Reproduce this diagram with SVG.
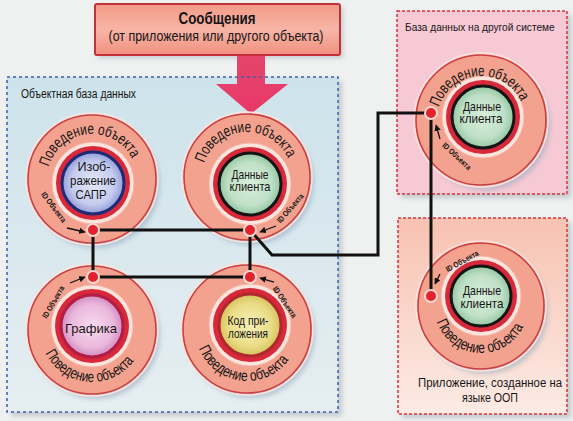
<svg xmlns="http://www.w3.org/2000/svg" width="573" height="421" viewBox="0 0 573 421">
<style>
text{font-family:"Liberation Sans","Noto Sans",Arial,sans-serif;fill:#161616}
.outer{fill:#f2a28e;stroke:#cf3d3f;stroke-width:1.6}
.halo{fill:none;stroke:#fbe3dc;stroke-width:1.5}
.pale{fill:#fde4dc;stroke:#f3b8a8;stroke-width:1}
.redr{fill:#d7293a}
.shadow{fill:#8fa6bd;opacity:.55;filter:url(#blur)}
.ring{font-size:15.5px}
.inner{font-size:13px;text-anchor:middle}
.idl{font-size:8px;font-weight:bold;text-anchor:middle}
.ida{stroke:#111;stroke-width:1.3;fill:none;marker-end:url(#ah)}
.conn{stroke:#111;stroke-width:3;fill:none;stroke-linejoin:miter}
.port{fill:#e2232d;stroke:#fcd8d0;stroke-width:2}
.ptitle{font-size:12px}
</style>
<defs>
<filter id="blur" x="-20%" y="-20%" width="140%" height="140%"><feGaussianBlur stdDeviation="2.5"/></filter>
<marker id="ah" viewBox="0 0 10 10" refX="9" refY="5" markerWidth="5" markerHeight="5" orient="auto" markerUnits="strokeWidth"><path d="M0,0 L10,5 L0,10 z" fill="#111"/></marker>
<linearGradient id="gLeft" x1="0" y1="0" x2="0" y2="1"><stop offset="0" stop-color="#cde3eb"/><stop offset="1" stop-color="#e6eef1"/></linearGradient>
<linearGradient id="gRB" x1="0" y1="0" x2="0" y2="1"><stop offset="0" stop-color="#f7c2b1"/><stop offset="1" stop-color="#fcebe5"/></linearGradient>
<linearGradient id="gMsg" x1="0" y1="0" x2="0" y2="1"><stop offset="0" stop-color="#f39a88"/><stop offset=".5" stop-color="#f7b5a6"/><stop offset="1" stop-color="#f09080"/></linearGradient>
<linearGradient id="gArr" x1="0" y1="0" x2="0" y2="1"><stop offset="0" stop-color="#e5456b"/><stop offset="1" stop-color="#e8386a"/></linearGradient>
<radialGradient id="gBlue"><stop offset="0" stop-color="#e4e8f7"/><stop offset=".7" stop-color="#c4cbee"/><stop offset="1" stop-color="#8f9bd6"/></radialGradient>
<radialGradient id="gGreen"><stop offset="0" stop-color="#d9eedc"/><stop offset=".7" stop-color="#bfe0c6"/><stop offset="1" stop-color="#93c6a2"/></radialGradient>
<radialGradient id="gPink"><stop offset="0" stop-color="#f6dcef"/><stop offset=".7" stop-color="#eab8dc"/><stop offset="1" stop-color="#d28ac0"/></radialGradient>
<radialGradient id="gYel"><stop offset="0" stop-color="#f6efb8"/><stop offset=".7" stop-color="#eadc86"/><stop offset="1" stop-color="#d4c25a"/></radialGradient>
<path id="pTL" d="M47,179 A45,45 0 0 1 137,179"/>
<path id="pTR" d="M202,177 A45,45 0 0 1 292,177"/>
<path id="pRT" d="M437,120 A44,44 0 0 1 525,120"/>
<path id="pBL" d="M40,330 A52,52 0 0 0 144,330"/>
<path id="pBR" d="M195,329 A52,52 0 0 0 299,329"/>
<path id="pRB" d="M434,306 A47,47 0 0 0 528,306"/>
</defs>

<rect width="573" height="421" fill="#eff1f1"/>

<g id="panel-objdb">
<rect x="11" y="81" width="331" height="335" fill="#9aa3aa" opacity=".5" filter="url(#blur)"/>
<rect x="7" y="77" width="331" height="335" fill="url(#gLeft)"/>
<text class="ptitle" x="21" y="98" textLength="115" lengthAdjust="spacingAndGlyphs">Объектная база данных</text>
</g>

<g id="panel-otherdb">
<rect x="401" y="15" width="170" height="183" fill="#9aa3aa" opacity=".5" filter="url(#blur)"/>
<rect x="397" y="11" width="170" height="183" fill="#f6c9d5" stroke="#d5333f" stroke-width="1.5" stroke-dasharray="3 2"/>
<text transform="translate(405,31) scale(0.88,1)" font-size="11.5">База данных на другой системе</text>
</g>

<g id="panel-oop">
<rect x="402" y="222" width="169" height="196" fill="#9aa3aa" opacity=".5" filter="url(#blur)"/>
<rect x="398" y="218" width="169" height="196" fill="url(#gRB)" stroke="#d5333f" stroke-width="1.5" stroke-dasharray="3 2"/>
<text class="ptitle" x="490" y="387" text-anchor="middle" textLength="144" lengthAdjust="spacingAndGlyphs">Приложение, созданное на</text>
<text class="ptitle" x="490" y="402" text-anchor="middle" textLength="56" lengthAdjust="spacingAndGlyphs">языке ООП</text>
</g>

<g id="message">
<rect x="98" y="7" width="245" height="51" fill="#9aa3aa" opacity=".5" filter="url(#blur)"/>
<polygon points="237,55 265,55 265,84 288,84 251,114 216,84 237,84" fill="url(#gArr)"/>
<rect x="95" y="4" width="245" height="51" rx="2" fill="url(#gMsg)" stroke="#c3303a" stroke-width="2"/>
<text x="217" y="24" font-size="16" font-weight="bold" text-anchor="middle" textLength="77" lengthAdjust="spacingAndGlyphs">Сообщения</text>
<text x="216" y="41" font-size="14" text-anchor="middle" textLength="215" lengthAdjust="spacingAndGlyphs">(от приложения или другого объекта)</text>
</g>

<rect x="7" y="77" width="331" height="335" fill="none" stroke="#3d5fa8" stroke-width="1.5" stroke-dasharray="3 3"/>

<g id="node-cad">
<circle class="shadow" cx="96" cy="184" r="64"/>
<circle class="outer" cx="92" cy="179" r="64"/>
<circle class="halo" cx="92" cy="179" r="66"/>
<circle class="pale" cx="93" cy="183" r="41"/>
<circle class="redr" cx="93" cy="183" r="37"/>
<circle cx="93" cy="183" r="31" fill="url(#gBlue)" stroke="#1c2a78" stroke-width="3"/>
<text class="ring"><textPath href="#pTL" startOffset="66" text-anchor="middle" textLength="108" lengthAdjust="spacingAndGlyphs">Поведение объекта</textPath></text>
<text class="inner" font-size="15" x="94" y="171" textLength="33" lengthAdjust="spacingAndGlyphs">Изоб-</text>
<text class="inner" font-size="15" x="93" y="185" textLength="46" lengthAdjust="spacingAndGlyphs">ражение</text>
<text class="inner" font-size="15" x="91" y="199" textLength="31" lengthAdjust="spacingAndGlyphs">САПР</text>
<text class="idl" transform="translate(54,207) rotate(53)" y="3" textLength="36" lengthAdjust="spacingAndGlyphs">ID Объекта</text>
<line class="ida" x1="67" y1="228" x2="85" y2="232"/>
</g>

<g id="node-client">
<circle class="shadow" cx="251" cy="182" r="63"/>
<circle class="outer" cx="247" cy="177" r="63"/>
<circle class="halo" cx="247" cy="177" r="65"/>
<circle class="pale" cx="250" cy="184" r="41"/>
<circle class="redr" cx="250" cy="184" r="37"/>
<circle cx="250" cy="184" r="31" fill="url(#gGreen)" stroke="#151515" stroke-width="3"/>
<text class="ring"><textPath href="#pTR" startOffset="68" text-anchor="middle" textLength="108" lengthAdjust="spacingAndGlyphs">Поведение объекта</textPath></text>
<text class="inner" x="250" y="179" textLength="37" lengthAdjust="spacingAndGlyphs">Данные</text>
<text class="inner" x="250" y="191" textLength="41" lengthAdjust="spacingAndGlyphs">клиента</text>
<text class="idl" transform="translate(290,208) rotate(-49)" y="3" textLength="36" lengthAdjust="spacingAndGlyphs">ID Объекта</text>
<line class="ida" x1="276" y1="226" x2="260" y2="232"/>
</g>

<g id="node-graphics">
<circle class="shadow" cx="96" cy="335" r="64"/>
<circle class="outer" cx="92" cy="330" r="64"/>
<circle class="halo" cx="92" cy="330" r="66"/>
<circle class="pale" cx="92" cy="326" r="41"/>
<circle class="redr" cx="92" cy="326" r="37"/>
<circle cx="92" cy="326" r="31" fill="url(#gPink)" stroke="#b21d45" stroke-width="3"/>
<text class="ring"><textPath href="#pBL" startOffset="77" text-anchor="middle" textLength="106" lengthAdjust="spacingAndGlyphs">Поведение объекта</textPath></text>
<text class="inner" font-size="17" x="91" y="333" textLength="52" lengthAdjust="spacingAndGlyphs">Графика</text>
<text class="idl" transform="translate(53,302) rotate(-60)" y="3" textLength="36" lengthAdjust="spacingAndGlyphs">ID Объекта</text>
<line class="ida" x1="70" y1="283" x2="85" y2="277"/>
</g>

<g id="node-appcode">
<circle class="shadow" cx="251" cy="334" r="64"/>
<circle class="outer" cx="247" cy="329" r="64"/>
<circle class="halo" cx="247" cy="329" r="66"/>
<circle class="pale" cx="250" cy="325" r="41"/>
<circle class="redr" cx="250" cy="325" r="37"/>
<circle cx="250" cy="325" r="31" fill="url(#gYel)" stroke="#b0282e" stroke-width="3"/>
<text class="ring"><textPath href="#pBR" startOffset="75" text-anchor="middle" textLength="110" lengthAdjust="spacingAndGlyphs">Поведение объекта</textPath></text>
<text class="inner" x="248" y="325" textLength="41" lengthAdjust="spacingAndGlyphs">Код при-</text>
<text class="inner" x="248" y="338" textLength="40" lengthAdjust="spacingAndGlyphs">ложения</text>
<text class="idl" transform="translate(285,302) rotate(56)" y="3" textLength="36" lengthAdjust="spacingAndGlyphs">ID Объекта</text>
<line class="ida" x1="274" y1="282" x2="260" y2="278"/>
</g>

<g id="node-remote-client">
<circle class="shadow" cx="485" cy="125" r="65"/>
<circle class="outer" cx="481" cy="120" r="65"/>
<circle class="halo" cx="481" cy="120" r="67"/>
<circle class="pale" cx="483" cy="117" r="41"/>
<circle class="redr" cx="483" cy="117" r="37"/>
<circle cx="483" cy="117" r="31" fill="url(#gGreen)" stroke="#151515" stroke-width="3"/>
<text class="ring"><textPath href="#pRT" startOffset="66" text-anchor="middle" textLength="106" lengthAdjust="spacingAndGlyphs">Поведение объекта</textPath></text>
<text class="inner" x="482" y="111" textLength="38" lengthAdjust="spacingAndGlyphs">Данные</text>
<text class="inner" x="481" y="123" textLength="43" lengthAdjust="spacingAndGlyphs">клиента</text>
<text class="idl" transform="translate(457,156) rotate(43)" y="3" textLength="36" lengthAdjust="spacingAndGlyphs">ID Объекта</text>
<line class="ida" x1="440" y1="139" x2="436" y2="125"/>
</g>

<g id="node-oop-client">
<circle class="shadow" cx="485" cy="311" r="63"/>
<circle class="outer" cx="481" cy="306" r="63"/>
<circle class="halo" cx="481" cy="306" r="65"/>
<circle class="pale" cx="481" cy="296" r="40"/>
<circle class="redr" cx="481" cy="296" r="36"/>
<circle cx="481" cy="296" r="30" fill="url(#gGreen)" stroke="#151515" stroke-width="3"/>
<text class="ring"><textPath href="#pRB" startOffset="71" text-anchor="middle" textLength="110" lengthAdjust="spacingAndGlyphs">Поведение объекта</textPath></text>
<text class="inner" x="482" y="295" textLength="38" lengthAdjust="spacingAndGlyphs">Данные</text>
<text class="inner" x="482" y="308" textLength="43" lengthAdjust="spacingAndGlyphs">клиента</text>
<text class="idl" transform="translate(462,261) rotate(-29)" y="3" textLength="36" lengthAdjust="spacingAndGlyphs">ID Объекта</text>
<line class="ida" x1="440" y1="274" x2="435" y2="284"/>
</g>

<g id="connectors">
<line class="conn" x1="93" y1="230" x2="250" y2="230"/>
<line class="conn" x1="93" y1="230" x2="93" y2="277"/>
<line class="conn" x1="93" y1="277" x2="250" y2="277"/>
<line class="conn" x1="250" y1="230" x2="250" y2="277"/>
<polyline class="conn" points="250,230 272,255 378,255 378,113 431,113"/>
<line class="conn" x1="431" y1="113" x2="431" y2="296"/>
</g>

<g id="ports">
<circle class="port" cx="93" cy="230" r="6"/>
<circle class="port" cx="250" cy="230" r="6"/>
<circle class="port" cx="93" cy="277" r="6"/>
<circle class="port" cx="250" cy="277" r="6"/>
<circle class="port" cx="431" cy="113" r="6"/>
<circle class="port" cx="431" cy="296" r="6"/>
</g>
</svg>
